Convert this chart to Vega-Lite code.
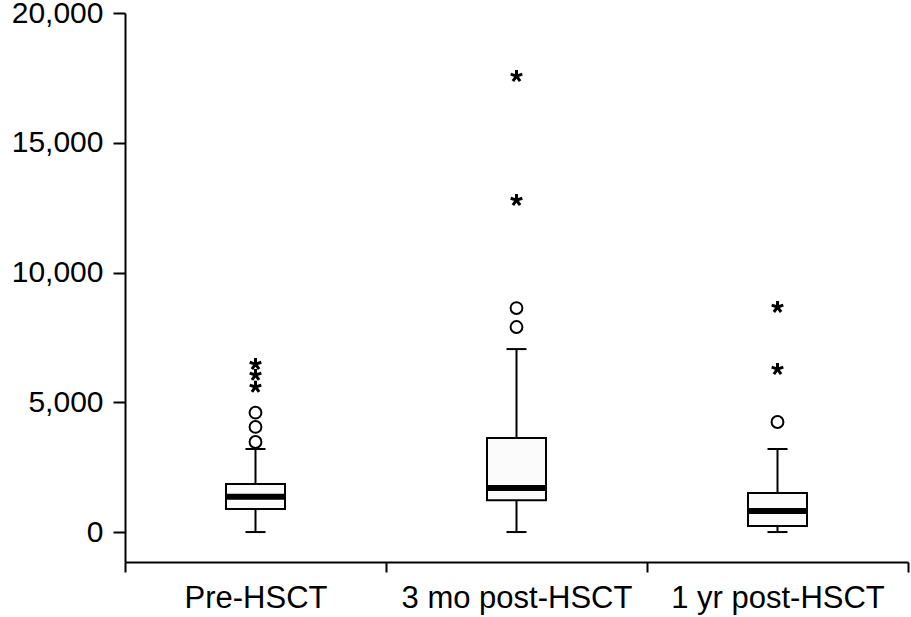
{
  "$schema": "https://vega.github.io/schema/vega-lite/v6.json",
  "width": 783,
  "height": 549,
  "autosize": {"type": "none"},
  "padding": {"left": 125, "top": 13, "right": 3, "bottom": 55},
  "background": "white",
  "config": {
    "view": {"stroke": null},
    "font": "Liberation Sans",
    "axis": {"grid": false, "domainColor": "black", "domainWidth": 2, "tickColor": "black", "tickWidth": 2, "labelColor": "black", "labelFont": "Liberation Sans", "labelLimit": 0},
    "axisX": {"labelFontSize": 31, "tickSize": 10, "labelPadding": 11},
    "axisY": {"labelFontSize": 30, "tickSize": 12, "labelPadding": 10}
  },
  "datasets": {
    "boxes": [
      {"group": "Pre-HSCT", "lower": 0, "q1": 886, "median": 1360, "q3": 1850, "upper": 3200},
      {"group": "3 mo post-HSCT", "lower": 0, "q1": 1230, "median": 1700, "q3": 3620, "upper": 7050},
      {"group": "1 yr post-HSCT", "lower": 0, "q1": 230, "median": 810, "q3": 1500, "upper": 3200}
    ],
    "outliers": [
      {"group": "Pre-HSCT", "value": 3470, "kind": "outlier"},
      {"group": "Pre-HSCT", "value": 4050, "kind": "outlier"},
      {"group": "Pre-HSCT", "value": 4600, "kind": "outlier"},
      {"group": "Pre-HSCT", "value": 5590, "kind": "extreme"},
      {"group": "Pre-HSCT", "value": 6050, "kind": "extreme"},
      {"group": "Pre-HSCT", "value": 6470, "kind": "extreme"},
      {"group": "3 mo post-HSCT", "value": 7900, "kind": "outlier"},
      {"group": "3 mo post-HSCT", "value": 8630, "kind": "outlier"},
      {"group": "3 mo post-HSCT", "value": 12790, "kind": "extreme"},
      {"group": "3 mo post-HSCT", "value": 17570, "kind": "extreme"},
      {"group": "1 yr post-HSCT", "value": 4240, "kind": "outlier"},
      {"group": "1 yr post-HSCT", "value": 6280, "kind": "extreme"},
      {"group": "1 yr post-HSCT", "value": 8670, "kind": "extreme"}
    ]
  },
  "encoding": {
    "x": {
      "field": "group",
      "type": "nominal",
      "sort": ["Pre-HSCT", "3 mo post-HSCT", "1 yr post-HSCT"],
      "scale": {"paddingInner": 0, "paddingOuter": 0},
      "axis": {"title": null, "tickBand": "extent", "labelAngle": 0, "orient": "bottom"}
    }
  },
  "layer": [
    {
      "data": {"name": "boxes"},
      "mark": {"type": "rule", "color": "black", "strokeWidth": 2},
      "encoding": {
        "y": {
          "field": "lower",
          "type": "quantitative",
          "scale": {"domain": [-1154, 20000], "nice": false, "zero": false},
          "axis": {"title": null, "values": [0, 5000, 10000, 15000, 20000], "format": ",d"}
        },
        "y2": {"field": "upper"}
      }
    },
    {
      "data": {"name": "boxes"},
      "mark": {"type": "tick", "color": "black", "size": 20, "thickness": 2, "orient": "horizontal", "opacity": 1},
      "encoding": {"y": {"field": "lower", "type": "quantitative", "axis": {"title": null, "values": [0, 5000, 10000, 15000, 20000], "format": ",d"}}}
    },
    {
      "data": {"name": "boxes"},
      "mark": {"type": "tick", "color": "black", "size": 20, "thickness": 2, "orient": "horizontal", "opacity": 1},
      "encoding": {"y": {"field": "upper", "type": "quantitative", "axis": {"title": null, "values": [0, 5000, 10000, 15000, 20000], "format": ",d"}}}
    },
    {
      "data": {"name": "boxes"},
      "mark": {"type": "bar", "width": 59, "fill": "#fbfbfb", "stroke": "black", "strokeWidth": 2, "opacity": 1},
      "encoding": {
        "y": {"field": "q1", "type": "quantitative", "axis": {"title": null, "values": [0, 5000, 10000, 15000, 20000], "format": ",d"}},
        "y2": {"field": "q3"}
      }
    },
    {
      "data": {"name": "boxes"},
      "mark": {"type": "tick", "color": "black", "size": 59, "thickness": 6, "orient": "horizontal", "opacity": 1},
      "encoding": {"y": {"field": "median", "type": "quantitative", "axis": {"title": null, "values": [0, 5000, 10000, 15000, 20000], "format": ",d"}}}
    },
    {
      "data": {"name": "outliers"},
      "transform": [{"filter": "datum.kind === 'outlier'"}],
      "mark": {"type": "point", "shape": "circle", "filled": false, "stroke": "black", "strokeWidth": 2, "size": 140, "opacity": 1},
      "encoding": {"y": {"field": "value", "type": "quantitative", "axis": {"title": null, "values": [0, 5000, 10000, 15000, 20000], "format": ",d"}}}
    },
    {
      "data": {"name": "outliers"},
      "transform": [{"filter": "datum.kind === 'extreme'"}],
      "mark": {"type": "point", "shape": "M0,0L0,-1M0,0L0.951,-0.309M0,0L-0.951,-0.309M0,0L0.588,0.809M0,0L-0.588,0.809", "filled": false, "stroke": "black", "strokeWidth": 3, "size": 150, "opacity": 1},
      "encoding": {"y": {"field": "value", "type": "quantitative", "axis": {"title": null, "values": [0, 5000, 10000, 15000, 20000], "format": ",d"}}}
    }
  ]
}
